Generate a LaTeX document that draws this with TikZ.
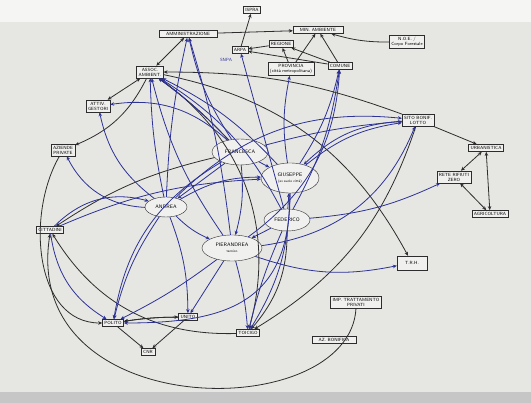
\documentclass[tikz,border=0pt]{standalone}
\usepackage{xcolor}
\usetikzlibrary{shapes.geometric,arrows.meta}

\definecolor{paper}{RGB}{230,230,227}
\definecolor{ink}{RGB}{45,45,45}
\definecolor{pen}{RGB}{45,50,150}

\tikzset{
  inst/.style={shape=rectangle,draw=ink,fill=paper!60!white,inner sep=2pt,align=center,
    font=\sffamily\fontsize{4.5}{5}\selectfont},
  pers/.style={shape=ellipse,draw=ink,fill=paper!60!white,inner sep=1pt,align=center,
    font=\sffamily\fontsize{5}{5.5}\selectfont},
  blk/.style={->,draw=ink,thick},
  blu/.style={->,draw=pen,thick},
}

\begin{document}
\begin{tikzpicture}[x=1pt,y=-1pt,>={Stealth[length=4pt,width=3.5pt]}]
  \fill[paper] (0,0) rectangle (531,403);
  \fill[white!60!paper] (0,0) rectangle (531,22);
  \fill[gray!45] (0,392) rectangle (531,403);
  \useasboundingbox (0,0) rectangle (531,403);

  % institutions
  \node[inst] (ispra) at (252,10) {ISPRA};
  \node[inst,minimum width=58pt] (ammin) at (188,34) {AMMINISTRAZIONE};
  \node[inst,minimum width=50pt] (minamb) at (318,30) {MIN. AMBIENTE};
  \node[inst] (noe) at (407,42) {N.O.E. /\\ Corpo Forestale};
  \node[inst] (arpa) at (240,50) {ARPA};
  \node[inst] (regione) at (281,44) {REGIONE};
  \node[inst] (prov) at (291,69) {PROVINCIA\\ (città metropolitana)};
  \node[inst] (comune) at (340,66) {COMUNE};
  \node[inst] (assoc) at (150,72) {ASSOC.\\ AMBIENT.};
  \node[inst] (gestori) at (98,106) {ATTIV.\\ GESTORI};
  \node[inst] (aziende) at (63,150) {AZIENDE\\ PRIVATE};
  \node[inst] (citt) at (50,230) {CITTADINI};
  \node[inst] (sito) at (418,120) {SITO BONIF.\\ LOTTO};
  \node[inst] (urban) at (486,148) {URBANISTICA};
  \node[inst] (rete) at (454,177) {RETE RIFIUTI\\ ZERO};
  \node[inst] (agri) at (490,214) {AGRICOLTURA};
  \node[inst,minimum width=30pt,minimum height=14pt] (trh) at (412,263) {T.R.H.};
  \node[inst] (polito) at (113,323) {POLITO};
  \node[inst] (unito) at (188,317) {UNITO};
  \node[inst] (cnr) at (148,352) {CNR};
  \node[inst] (toicigo) at (248,333) {TOICIGO};
  \node[inst,minimum width=44pt] (bonifica) at (334,340) {AZ. BONIFICA};
  \node[inst] (imp) at (356,302) {IMP. TRATTAMENTO\\ PRIVATI};
  \node[text=pen,font=\sffamily\fontsize{4.5}{5}\selectfont] (snpa) at (226,60) {SNPA};

  % people
  \node[pers,minimum width=56pt,minimum height=26pt] (francesca) at (240,152) {FRANCESCA};
  \node[pers,minimum width=58pt,minimum height=30pt] (giuseppe) at (290,178) {GIUSEPPE\\ \fontsize{3.5}{4}\selectfont (ex suolo città)};
  \node[pers,minimum width=42pt,minimum height=20pt] (andrea) at (166,207) {ANDREA};
  \node[pers,minimum width=46pt,minimum height=22pt] (federico) at (287,220) {FEDERICO};
  \node[pers,minimum width=60pt,minimum height=26pt] (pierandrea) at (232,248) {PIERANDREA\\ \fontsize{3.5}{4}\selectfont tecnico};

  % black edges
  \path [blk] (ammin) edge (minamb);
  \path [blk] (arpa) edge (ispra);
  \path [blk] (regione) edge (arpa);
  \path [blk] (comune) edge (arpa);
  \path [blk] (prov) edge (regione);
  \path [blk] (prov) edge (minamb);
  \path [blk] (comune) edge (minamb);
  \path [blk] (comune) edge (regione);
  \path [blk] (noe) edge [bend left=8] (minamb);
  \path [blk,<->] (ammin) edge (assoc);
  \path [blk,<->] (assoc) edge (gestori);
  \path [blk] (assoc) edge [bend left=20] (aziende);
  \path [blk] (sito) edge [bend right=10] (assoc);
  \path [blk] (francesca) edge [bend right=5] (assoc);
  \path [blk] (assoc) edge [bend left=25] (trh);
  \path [blk] (sito) edge (urban);
  \path [blk,<->] (urban) edge (rete);
  \path [blk,<->] (urban) edge (agri);
  \path [blk,<->] (rete) edge (agri);
  \path [blk] (francesca) edge [bend right=10] (citt);
  \path [blk] (toicigo) edge [bend left=30] (citt);
  \path [blk] (aziende) edge [out=-120,in=180] (polito);
  \path [blk,<->] (polito) edge [bend left=4] (unito);
  \path [blk] (unito) edge [bend right=4] (polito);
  \path [blk] (polito) edge (cnr);
  \path [blk] (unito) edge (cnr);
  \path [blk] (assoc) edge [bend left=35] (toicigo);
  \path [blk] (federico) edge [bend left=20] (toicigo);
  \path [blk] (sito) edge [bend left=20] (toicigo);
  \draw [blk] (imp.south) .. controls (350,425) and (20,425) .. (citt.south);

  % blue edges
  \path [blu] (francesca) edge [bend left=10] (ammin);
  \path [blu] (andrea) edge [bend left=5] (ammin);
  \path [blu] (pierandrea) edge [bend right=5] (ammin);
  \path [blu] (federico) edge (arpa);
  \path [blu] (giuseppe) edge [bend left=10] (prov);
  \path [blu] (giuseppe) edge [bend right=10] (comune);
  \path [blu] (federico) edge [bend right=10] (comune);
  \path [blu] (pierandrea) edge [bend right=25] (comune);
  \path [blu] (francesca) edge [bend right=5] (assoc);
  \path [blu] (andrea) edge [bend left=5] (assoc);
  \path [blu] (pierandrea) edge [bend left=10] (assoc);
  \path [blu] (giuseppe) edge [bend right=10] (assoc);
  \path [blu] (federico) edge [bend right=15] (assoc);
  \path [blu] (francesca) edge [bend right=25] (gestori);
  \path [blu] (andrea) edge [bend left=20] (gestori);
  \path [blu] (andrea) edge [bend left=30] (aziende);
  \path [blu] (francesca) edge [bend left=5] (sito);
  \path [blu] (giuseppe) edge [bend left=15] (sito);
  \path [blu] (pierandrea) edge [bend right=30] (sito);
  \path [blu] (andrea) edge [bend left=25] (sito);
  \path [blu] (federico) edge [bend right=10] (rete);
  \path [blu] (pierandrea) edge [bend right=15] (trh);
  \path [blu] (francesca) edge (giuseppe);
  \path [blu] (andrea) edge [bend left=15] (giuseppe);
  \path [blu] (federico) edge (giuseppe);
  \path [blu] (sito) edge [bend right=20] (giuseppe);
  \path [blu] (citt) edge [bend left=10] (giuseppe);
  \path [blu] (francesca) edge (andrea);
  \path [blu] (francesca) edge [bend left=10] (pierandrea);
  \path [blu] (andrea) edge [bend right=10] (pierandrea);
  \path [blu] (federico) edge (pierandrea);
  \path [blu] (andrea) edge [bend right=10] (polito);
  \path [blu] (francesca) edge [bend right=25] (polito);
  \path [blu] (pierandrea) edge [bend left=5] (polito);
  \path [blu] (pierandrea) edge (unito);
  \path [blu] (andrea) edge [bend left=10] (unito);
  \path [blu] (pierandrea) edge [bend left=5] (toicigo);
  \path [blu] (federico) edge [bend right=5] (toicigo);
  \path [blu] (giuseppe) edge [bend left=15] (toicigo);
  \path [blu] (citt) edge [bend right=25] (polito);
  \path [blu] (citt) edge [bend left=30] (andrea);
  \path [blu] (giuseppe) edge [out=-90,in=0,looseness=1.3] (polito);
\end{tikzpicture}
\end{document}
